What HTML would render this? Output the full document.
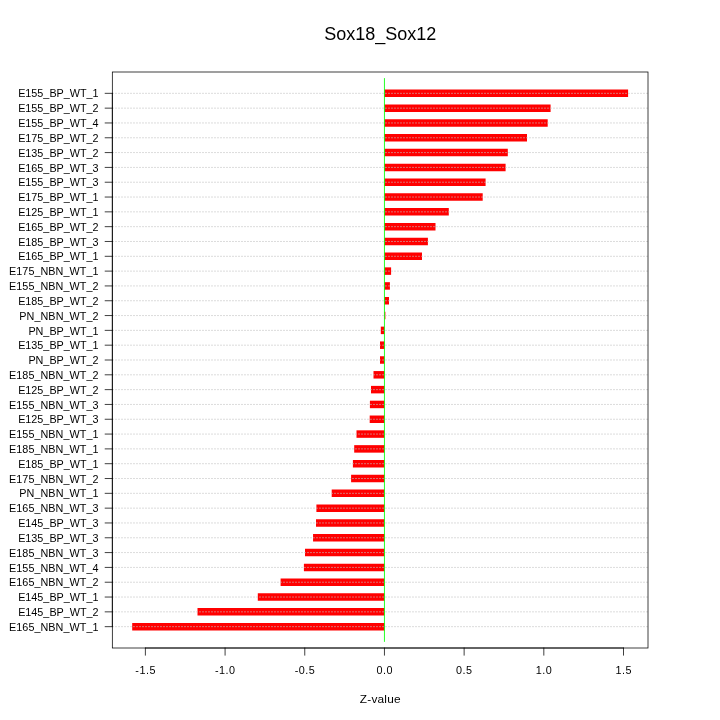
<!DOCTYPE html>
<html><head><meta charset="utf-8"><title>Sox18_Sox12</title>
<style>
html,body{margin:0;padding:0;background:#fff;}
body{width:720px;height:720px;overflow:hidden;}
svg{display:block;}
text{font-family:"Liberation Sans",sans-serif;fill:#000;}
.lab{font-size:10.8px;text-anchor:end;}
.tick{font-size:10.8px;text-anchor:middle;letter-spacing:0.5px;}
.nbn{letter-spacing:0.06px;}
</style></head><body>
<svg width="720" height="720" viewBox="0 0 720 720">
<rect width="720" height="720" fill="#fff"/>

<g stroke="#ff0000" stroke-width="7.5" fill="none">
<line x1="384.45" y1="93.33" x2="628.10" y2="93.33"/>
<line x1="384.45" y1="108.15" x2="550.60" y2="108.15"/>
<line x1="384.45" y1="122.96" x2="547.70" y2="122.96"/>
<line x1="384.45" y1="137.78" x2="527.00" y2="137.78"/>
<line x1="384.45" y1="152.59" x2="507.80" y2="152.59"/>
<line x1="384.45" y1="167.41" x2="505.60" y2="167.41"/>
<line x1="384.45" y1="182.22" x2="485.60" y2="182.22"/>
<line x1="384.45" y1="197.04" x2="482.70" y2="197.04"/>
<line x1="384.45" y1="211.85" x2="448.80" y2="211.85"/>
<line x1="384.45" y1="226.67" x2="435.50" y2="226.67"/>
<line x1="384.45" y1="241.48" x2="427.90" y2="241.48"/>
<line x1="384.45" y1="256.30" x2="422.00" y2="256.30"/>
<line x1="384.45" y1="271.11" x2="391.10" y2="271.11"/>
<line x1="384.45" y1="285.93" x2="389.90" y2="285.93"/>
<line x1="384.45" y1="300.74" x2="389.00" y2="300.74"/>
<line x1="384.45" y1="315.56" x2="385.40" y2="315.56"/>
<line x1="384.45" y1="330.37" x2="380.80" y2="330.37"/>
<line x1="384.45" y1="345.18" x2="380.00" y2="345.18"/>
<line x1="384.45" y1="360.00" x2="380.00" y2="360.00"/>
<line x1="384.45" y1="374.81" x2="373.50" y2="374.81"/>
<line x1="384.45" y1="389.63" x2="371.00" y2="389.63"/>
<line x1="384.45" y1="404.44" x2="369.90" y2="404.44"/>
<line x1="384.45" y1="419.26" x2="369.70" y2="419.26"/>
<line x1="384.45" y1="434.07" x2="356.50" y2="434.07"/>
<line x1="384.45" y1="448.89" x2="354.20" y2="448.89"/>
<line x1="384.45" y1="463.70" x2="352.90" y2="463.70"/>
<line x1="384.45" y1="478.52" x2="351.10" y2="478.52"/>
<line x1="384.45" y1="493.33" x2="331.70" y2="493.33"/>
<line x1="384.45" y1="508.15" x2="316.40" y2="508.15"/>
<line x1="384.45" y1="522.96" x2="316.00" y2="522.96"/>
<line x1="384.45" y1="537.78" x2="313.05" y2="537.78"/>
<line x1="384.45" y1="552.59" x2="305.00" y2="552.59"/>
<line x1="384.45" y1="567.41" x2="303.90" y2="567.41"/>
<line x1="384.45" y1="582.22" x2="280.60" y2="582.22"/>
<line x1="384.45" y1="597.04" x2="257.80" y2="597.04"/>
<line x1="384.45" y1="611.85" x2="197.50" y2="611.85"/>
<line x1="384.45" y1="626.67" x2="132.20" y2="626.67"/>
</g>
<g stroke="#c2c2c2" stroke-width="0.75" stroke-dasharray="0.75 2.25" stroke-linecap="round" fill="none">
<line x1="112.625" y1="93.33" x2="648.00" y2="93.33"/>
<line x1="112.625" y1="108.15" x2="648.00" y2="108.15"/>
<line x1="112.625" y1="122.96" x2="648.00" y2="122.96"/>
<line x1="112.625" y1="137.78" x2="648.00" y2="137.78"/>
<line x1="112.625" y1="152.59" x2="648.00" y2="152.59"/>
<line x1="112.625" y1="167.41" x2="648.00" y2="167.41"/>
<line x1="112.625" y1="182.22" x2="648.00" y2="182.22"/>
<line x1="112.625" y1="197.04" x2="648.00" y2="197.04"/>
<line x1="112.625" y1="211.85" x2="648.00" y2="211.85"/>
<line x1="112.625" y1="226.67" x2="648.00" y2="226.67"/>
<line x1="112.625" y1="241.48" x2="648.00" y2="241.48"/>
<line x1="112.625" y1="256.30" x2="648.00" y2="256.30"/>
<line x1="112.625" y1="271.11" x2="648.00" y2="271.11"/>
<line x1="112.625" y1="285.93" x2="648.00" y2="285.93"/>
<line x1="112.625" y1="300.74" x2="648.00" y2="300.74"/>
<line x1="112.625" y1="315.56" x2="648.00" y2="315.56"/>
<line x1="112.625" y1="330.37" x2="648.00" y2="330.37"/>
<line x1="112.625" y1="345.18" x2="648.00" y2="345.18"/>
<line x1="112.625" y1="360.00" x2="648.00" y2="360.00"/>
<line x1="112.625" y1="374.81" x2="648.00" y2="374.81"/>
<line x1="112.625" y1="389.63" x2="648.00" y2="389.63"/>
<line x1="112.625" y1="404.44" x2="648.00" y2="404.44"/>
<line x1="112.625" y1="419.26" x2="648.00" y2="419.26"/>
<line x1="112.625" y1="434.07" x2="648.00" y2="434.07"/>
<line x1="112.625" y1="448.89" x2="648.00" y2="448.89"/>
<line x1="112.625" y1="463.70" x2="648.00" y2="463.70"/>
<line x1="112.625" y1="478.52" x2="648.00" y2="478.52"/>
<line x1="112.625" y1="493.33" x2="648.00" y2="493.33"/>
<line x1="112.625" y1="508.15" x2="648.00" y2="508.15"/>
<line x1="112.625" y1="522.96" x2="648.00" y2="522.96"/>
<line x1="112.625" y1="537.78" x2="648.00" y2="537.78"/>
<line x1="112.625" y1="552.59" x2="648.00" y2="552.59"/>
<line x1="112.625" y1="567.41" x2="648.00" y2="567.41"/>
<line x1="112.625" y1="582.22" x2="648.00" y2="582.22"/>
<line x1="112.625" y1="597.04" x2="648.00" y2="597.04"/>
<line x1="112.625" y1="611.85" x2="648.00" y2="611.85"/>
<line x1="112.625" y1="626.67" x2="648.00" y2="626.67"/>
</g>
<line x1="384.45" y1="78.52" x2="384.45" y2="641.48" stroke="#00ff00" stroke-width="0.85" stroke-linecap="round"/>
<rect x="112.32" y="72.00" width="535.68" height="576.00" fill="none" stroke="#000" stroke-width="0.75"/>
<g stroke="#000" stroke-width="0.75" stroke-linecap="round" fill="none">
<line x1="112.32" y1="93.33" x2="112.32" y2="626.67"/>
<line x1="105.12" y1="93.33" x2="112.32" y2="93.33"/>
<line x1="105.12" y1="108.15" x2="112.32" y2="108.15"/>
<line x1="105.12" y1="122.96" x2="112.32" y2="122.96"/>
<line x1="105.12" y1="137.78" x2="112.32" y2="137.78"/>
<line x1="105.12" y1="152.59" x2="112.32" y2="152.59"/>
<line x1="105.12" y1="167.41" x2="112.32" y2="167.41"/>
<line x1="105.12" y1="182.22" x2="112.32" y2="182.22"/>
<line x1="105.12" y1="197.04" x2="112.32" y2="197.04"/>
<line x1="105.12" y1="211.85" x2="112.32" y2="211.85"/>
<line x1="105.12" y1="226.67" x2="112.32" y2="226.67"/>
<line x1="105.12" y1="241.48" x2="112.32" y2="241.48"/>
<line x1="105.12" y1="256.30" x2="112.32" y2="256.30"/>
<line x1="105.12" y1="271.11" x2="112.32" y2="271.11"/>
<line x1="105.12" y1="285.93" x2="112.32" y2="285.93"/>
<line x1="105.12" y1="300.74" x2="112.32" y2="300.74"/>
<line x1="105.12" y1="315.56" x2="112.32" y2="315.56"/>
<line x1="105.12" y1="330.37" x2="112.32" y2="330.37"/>
<line x1="105.12" y1="345.18" x2="112.32" y2="345.18"/>
<line x1="105.12" y1="360.00" x2="112.32" y2="360.00"/>
<line x1="105.12" y1="374.81" x2="112.32" y2="374.81"/>
<line x1="105.12" y1="389.63" x2="112.32" y2="389.63"/>
<line x1="105.12" y1="404.44" x2="112.32" y2="404.44"/>
<line x1="105.12" y1="419.26" x2="112.32" y2="419.26"/>
<line x1="105.12" y1="434.07" x2="112.32" y2="434.07"/>
<line x1="105.12" y1="448.89" x2="112.32" y2="448.89"/>
<line x1="105.12" y1="463.70" x2="112.32" y2="463.70"/>
<line x1="105.12" y1="478.52" x2="112.32" y2="478.52"/>
<line x1="105.12" y1="493.33" x2="112.32" y2="493.33"/>
<line x1="105.12" y1="508.15" x2="112.32" y2="508.15"/>
<line x1="105.12" y1="522.96" x2="112.32" y2="522.96"/>
<line x1="105.12" y1="537.78" x2="112.32" y2="537.78"/>
<line x1="105.12" y1="552.59" x2="112.32" y2="552.59"/>
<line x1="105.12" y1="567.41" x2="112.32" y2="567.41"/>
<line x1="105.12" y1="582.22" x2="112.32" y2="582.22"/>
<line x1="105.12" y1="597.04" x2="112.32" y2="597.04"/>
<line x1="105.12" y1="611.85" x2="112.32" y2="611.85"/>
<line x1="105.12" y1="626.67" x2="112.32" y2="626.67"/>
<line x1="145.39" y1="648.00" x2="623.50" y2="648.00"/>
<line x1="145.39" y1="648.00" x2="145.39" y2="655.20"/>
<line x1="225.08" y1="648.00" x2="225.08" y2="655.20"/>
<line x1="304.76" y1="648.00" x2="304.76" y2="655.20"/>
<line x1="384.45" y1="648.00" x2="384.45" y2="655.20"/>
<line x1="464.13" y1="648.00" x2="464.13" y2="655.20"/>
<line x1="543.82" y1="648.00" x2="543.82" y2="655.20"/>
<line x1="623.50" y1="648.00" x2="623.50" y2="655.20"/>
</g>
<text class="lab" x="98.60" y="97.48">E155_BP_WT_1</text>
<text class="lab" x="98.60" y="112.30">E155_BP_WT_2</text>
<text class="lab" x="98.60" y="127.11">E155_BP_WT_4</text>
<text class="lab" x="98.60" y="141.93">E175_BP_WT_2</text>
<text class="lab" x="98.60" y="156.74">E135_BP_WT_2</text>
<text class="lab" x="98.60" y="171.56">E165_BP_WT_3</text>
<text class="lab" x="98.60" y="186.37">E155_BP_WT_3</text>
<text class="lab" x="98.60" y="201.19">E175_BP_WT_1</text>
<text class="lab" x="98.60" y="216.00">E125_BP_WT_1</text>
<text class="lab" x="98.60" y="230.82">E165_BP_WT_2</text>
<text class="lab" x="98.60" y="245.63">E185_BP_WT_3</text>
<text class="lab" x="98.60" y="260.45">E165_BP_WT_1</text>
<text class="lab nbn" x="98.60" y="275.26">E175_NBN_WT_1</text>
<text class="lab nbn" x="98.60" y="290.08">E155_NBN_WT_2</text>
<text class="lab" x="98.60" y="304.89">E185_BP_WT_2</text>
<text class="lab nbn" x="98.60" y="319.70">PN_NBN_WT_2</text>
<text class="lab" x="98.60" y="334.52">PN_BP_WT_1</text>
<text class="lab" x="98.60" y="349.33">E135_BP_WT_1</text>
<text class="lab" x="98.60" y="364.15">PN_BP_WT_2</text>
<text class="lab nbn" x="98.60" y="378.96">E185_NBN_WT_2</text>
<text class="lab" x="98.60" y="393.78">E125_BP_WT_2</text>
<text class="lab nbn" x="98.60" y="408.59">E155_NBN_WT_3</text>
<text class="lab" x="98.60" y="423.41">E125_BP_WT_3</text>
<text class="lab nbn" x="98.60" y="438.22">E155_NBN_WT_1</text>
<text class="lab nbn" x="98.60" y="453.04">E185_NBN_WT_1</text>
<text class="lab" x="98.60" y="467.85">E185_BP_WT_1</text>
<text class="lab nbn" x="98.60" y="482.67">E175_NBN_WT_2</text>
<text class="lab nbn" x="98.60" y="497.48">PN_NBN_WT_1</text>
<text class="lab nbn" x="98.60" y="512.30">E165_NBN_WT_3</text>
<text class="lab" x="98.60" y="527.11">E145_BP_WT_3</text>
<text class="lab" x="98.60" y="541.93">E135_BP_WT_3</text>
<text class="lab nbn" x="98.60" y="556.74">E185_NBN_WT_3</text>
<text class="lab nbn" x="98.60" y="571.56">E155_NBN_WT_4</text>
<text class="lab nbn" x="98.60" y="586.37">E165_NBN_WT_2</text>
<text class="lab" x="98.60" y="601.19">E145_BP_WT_1</text>
<text class="lab" x="98.60" y="616.00">E145_BP_WT_2</text>
<text class="lab nbn" x="98.60" y="630.82">E165_NBN_WT_1</text>
<text class="tick" x="145.64" y="673.70">-1.5</text>
<text class="tick" x="225.33" y="673.70">-1.0</text>
<text class="tick" x="305.01" y="673.70">-0.5</text>
<text class="tick" x="384.70" y="673.70">0.0</text>
<text class="tick" x="464.38" y="673.70">0.5</text>
<text class="tick" x="544.07" y="673.70">1.0</text>
<text class="tick" x="623.75" y="673.70">1.5</text>
<text transform="translate(380.3,702.8) scale(1.08,1)" font-size="11" letter-spacing="0.2" text-anchor="middle">Z-value</text>
<text x="380.2" y="39.8" font-size="18" text-anchor="middle">Sox18_Sox12</text>
</svg></body></html>
